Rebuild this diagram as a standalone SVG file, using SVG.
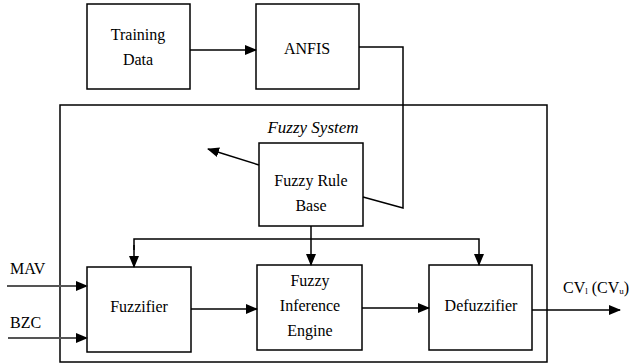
<svg xmlns="http://www.w3.org/2000/svg" width="638" height="364" viewBox="0 0 638 364">
<defs>
<style>
.box{fill:#fff;stroke:#000;stroke-width:1.5}
text{font-family:"Liberation Serif","DejaVu Serif","Times New Roman",serif;font-size:16px;fill:#000}
.t{text-anchor:middle}
.c{fill:none;stroke:#000;stroke-width:1.5}
</style>
<marker id="ah" markerWidth="12" markerHeight="10" refX="11" refY="5" orient="auto" markerUnits="userSpaceOnUse">
<path d="M0,0 L12,5 L0,10 Z" fill="#000"/>
</marker>
</defs>
<rect width="638" height="364" fill="#fff"/>
<g id="fuzzy-system">
<rect x="60" y="105" width="487" height="257" fill="none" stroke="#000" stroke-width="1.5"/>
<text x="313" y="133" class="t" font-style="italic" style="font-size:17px">Fuzzy System</text>
</g>
<g id="training-data">
<rect class="box" x="87" y="4" width="103" height="85"/>
<text class="t" x="138" y="40">Training</text>
<text class="t" x="138" y="65">Data</text>
</g>
<g id="anfis">
<rect class="box" x="256" y="4" width="103" height="85"/>
<text class="t" x="307" y="54">ANFIS</text>
</g>
<g id="fuzzy-rule-base">
<rect class="box" x="259" y="143" width="104" height="83"/>
<text class="t" x="311" y="186">Fuzzy Rule</text>
<text class="t" x="311" y="211">Base</text>
</g>
<g id="fuzzifier">
<rect class="box" x="87" y="267" width="104" height="85"/>
<text class="t" x="139" y="312">Fuzzifier</text>
</g>
<g id="inference-engine">
<rect class="box" x="257" y="265" width="105" height="85"/>
<text class="t" x="310" y="286">Fuzzy</text>
<text class="t" x="310" y="311">Inference</text>
<text class="t" x="310" y="336">Engine</text>
</g>
<g id="defuzzifier">
<rect class="box" x="429" y="265" width="103" height="85"/>
<text class="t" x="481" y="311">Defuzzifier</text>
</g>
<g id="labels">
<text x="10" y="274">MAV</text>
<text x="10" y="328">BZC</text>
<text x="563" y="293">CV<tspan font-size="9" dy="1">l</tspan><tspan dy="-1"> (CV</tspan><tspan font-size="9" dy="1">u</tspan><tspan dy="-1">)</tspan></text>
</g>
<g id="connectors">
<line class="c" x1="190" y1="50" x2="256" y2="50" marker-end="url(#ah)"/>
<polyline class="c" points="359,47 403,47 403,208 363,197"/>
<line class="c" x1="259" y1="165" x2="208" y2="149" marker-end="url(#ah)"/>
<line class="c" x1="311" y1="226" x2="311" y2="265" marker-end="url(#ah)"/>
<polyline class="c" points="134,250 134,239 479,239 479,265" marker-end="url(#ah)"/>
<line class="c" x1="134" y1="245" x2="134" y2="267" marker-end="url(#ah)"/>
<line class="c" x1="191" y1="309" x2="257" y2="309" marker-end="url(#ah)"/>
<line class="c" x1="362" y1="308" x2="429" y2="308" marker-end="url(#ah)"/>
<line class="c" x1="532" y1="310" x2="620" y2="310" marker-end="url(#ah)"/>
<line x1="7" y1="286" x2="87" y2="286" marker-end="url(#ah)" stroke="#555" stroke-width="2"/>
<line x1="8" y1="338" x2="87" y2="338" marker-end="url(#ah)" stroke="#555" stroke-width="2"/>
</g>
</svg>
